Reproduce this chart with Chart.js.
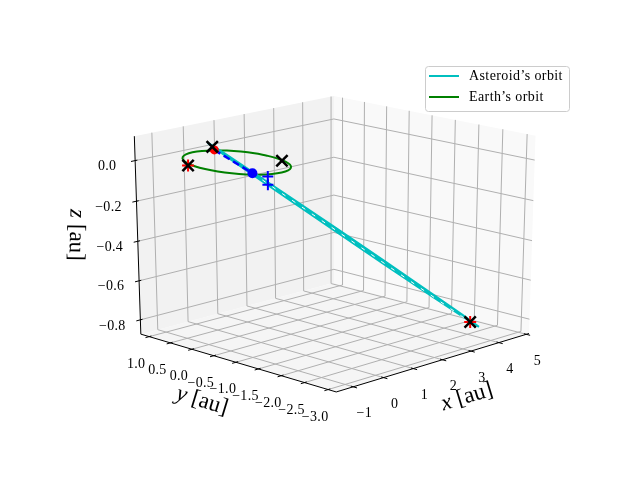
<!DOCTYPE html>
<html>
<head>
<meta charset="utf-8">
<title>Asteroid orbit</title>
<script src="https://cdn.jsdelivr.net/npm/chart.js@4/dist/chart.umd.min.js"></script>
<style>
  html, body { margin: 0; padding: 0; background: #fff; }
  canvas { display: block; }
</style>
</head>
<body>
<canvas id="orbitChart" width="640" height="480"></canvas>
<script>
// axis ticks, in au
const xTicks = [-1, 0, 1, 2, 3, 4, 5];
const yTicks = [1.0, 0.5, 0.0, -0.5, -1.0, -1.5, -2.0, -2.5, -3.0];
const zTicks = [0.0, -0.2, -0.4, -0.6, -0.8];
const xTickLabels = ["−1", "0", "1", "2", "3", "4", "5"];
const yTickLabels = ["1.0", "0.5", "0.0", "−0.5", "−1.0", "−1.5", "−2.0", "−2.5", "−3.0"];
const zTickLabels = ["0.0", "−0.2", "−0.4", "−0.6", "−0.8"];
const xLimits = [-1.55, 5.1];
const yLimits = [-3.17, 1.2];
const zLimits = [-0.874, 0.119];

// Earth's orbit, lies in z = 0
const earthX = [1, 0.966, 0.866, 0.707, 0.5, 0.259, 0, -0.259, -0.5, -0.707, -0.866, -0.966, -1, -0.966, -0.866, -0.707, -0.5, -0.259, 0, 0.259, 0.5, 0.707, 0.866, 0.966, 1];
const earthY = [0, 0.259, 0.5, 0.707, 0.866, 0.966, 1, 0.966, 0.866, 0.707, 0.5, 0.259, 0, -0.259, -0.5, -0.707, -0.866, -0.966, -1, -0.966, -0.866, -0.707, -0.5, -0.259, 0];
const earthZ = [0, 0, 0, 0, 0, 0, 0, 0, 0, 0, 0, 0, 0, 0, 0, 0, 0, 0, 0, 0, 0, 0, 0, 0, 0];

// Asteroid's orbit, a thin ellipse seen almost edge on
const asteroidX = [-0.503, -0.437, -0.219, 0.219, 0.875, 1.749, 2.624, 3.498, 4.067, 4.373, 4.067, 3.498, 2.624, 1.749, 0.875, 0.219, -0.219, -0.437, -0.503];
const asteroidY = [0.29, 0.253, 0.126, -0.126, -0.505, -1.01, -1.516, -2.021, -2.349, -2.526, -2.349, -2.021, -1.516, -1.01, -0.505, -0.126, 0.126, 0.253, 0.29];
const asteroidZ = [0.098, 0.087, 0.0467, -0.0361, -0.1619, -0.331, -0.5014, -0.6731, -0.7856, -0.85, -0.7944, -0.6869, -0.5186, -0.349, -0.1781, -0.0489, 0.0383, 0.083, 0.098];

// dashed chords and marked positions
const blueDashX = [-0.385, 0.28];
const blueDashY = [0.222, -0.162];
const blueDashZ = [0.062, -0.0544];
const whiteDashX = [0.28, 4.21];
const whiteDashY = [-0.162, -2.432];
const whiteDashZ = [-0.0544, -0.824];
const redDotX = [-0.385];
const redDotY = [0.222];
const redDotZ = [0.062];
const blueDotX = [0.28];
const blueDotY = [-0.162];
const blueDotZ = [-0.0544];
const blackCrossX = [-0.42, 0.861, -1.029, 4.21];
const blackCrossY = [0.243, -0.426, 0.364, -2.432];
const blackCrossZ = [0.077, 0, 0, -0.824];
const redPlusX = [-1.029, 4.21];
const redPlusY = [0.364, -2.432];
const redPlusZ = [0, -0.824];
const bluePlusX = [0.203, 0.203];
const bluePlusY = [-0.556, -0.556];
const bluePlusZ = [-0.048, -0.088];

const legendNames = ["Asteroid’s orbit", "Earth’s orbit"];
const legendColors = ["#00bfbf", "#008000"];

const ELEV = 19.2 * Math.PI / 180;
const AZIM_OFFSET = 0.006;   // tiny turn away from -135 deg
const SCALE_X = 2790, SCALE_Y = 2095, CENTER_X = 335, CENTER_Y = 236.5;
const FONT = '"Liberation Serif", serif';

// same idea as mplot3d: unit cube seen from distance 10
function project(x, y, z) {
  const fx = (x - xLimits[0]) / (xLimits[1] - xLimits[0]) - 0.5;
  const fy = (y - yLimits[0]) / (yLimits[1] - yLimits[0]) - 0.5;
  const fz = (z - zLimits[0]) / (zLimits[1] - zLimits[0]) - 0.5;
  const az = Math.PI / 4 + AZIM_OFFSET;
  const side = fx * Math.cos(az) - fy * Math.sin(az);
  const along = fx * Math.sin(az) + fy * Math.cos(az);
  const up = along * Math.sin(ELEV) + fz * Math.cos(ELEV);
  const depth = 10 + along * Math.cos(ELEV) - fz * Math.sin(ELEV);
  return { x: CENTER_X + SCALE_X * side / depth, y: CENTER_Y - SCALE_Y * up / depth };
}

function path(xs, ys, zs) {
  return xs.map((x, i) => project(x, ys[i], zs[i]));
}

// several separate segments in one dataset, split by empty points
function segments(list) {
  const pts = [];
  list.forEach(s => {
    pts.push(project(s[0], s[1], s[2]), project(s[3], s[4], s[5]), { x: null, y: null });
  });
  return pts;
}

const [x0, x1] = xLimits, [y0, y1] = yLimits, [z0, z1] = zLimits;

const gridSegments = [];
xTicks.forEach(t => {
  gridSegments.push([t, y0, z0, t, y1, z0], [t, y1, z0, t, y1, z1]);
});
yTicks.forEach(t => {
  gridSegments.push([x0, t, z0, x1, t, z0], [x1, t, z0, x1, t, z1]);
});
zTicks.forEach(t => {
  gridSegments.push([x0, y1, t, x1, y1, t], [x1, y1, t, x1, y0, t]);
});

const axisSegments = [
  [x0, y0, z0, x1, y0, z0],
  [x0, y0, z0, x0, y1, z0],
  [x0, y1, z0, x0, y1, z1]
];
xTicks.forEach(t => axisSegments.push([t, y0 - 0.08, z0, t, y0 + 0.05, z0]));
yTicks.forEach(t => axisSegments.push([x0 - 0.12, t, z0, x0 + 0.07, t, z0]));
zTicks.forEach(t => axisSegments.push([x0 - 0.13, y1, t, x0 + 0.07, y1, t]));

function pane(corners, color) {
  return {
    data: corners.map(c => project(c[0], c[1], c[2])),
    showLine: true, fill: 'shape', backgroundColor: color,
    borderWidth: 0, pointRadius: 0, order: 100
  };
}

function line(data, color, width, order, dash) {
  return {
    data, showLine: true, fill: false, borderColor: color, borderWidth: width,
    borderDash: dash || [], pointRadius: 0, order
  };
}

function marks(data, style, radius, color, width, order) {
  return {
    data, showLine: false, pointStyle: style, pointRadius: radius,
    pointBorderColor: color, pointBackgroundColor: color, pointBorderWidth: width, order
  };
}

const earthLine = line(path(earthX, earthY, earthZ), legendColors[1], 2, 8);
earthLine.tension = 0.4;

// the asteroid's loop is so thin that it reads as one solid band
const asteroidLine = line(path(asteroidX, asteroidY, asteroidZ), legendColors[0], 2, 7);
asteroidLine.fill = 'shape';
asteroidLine.backgroundColor = legendColors[0];

const datasets = [
  pane([[x0, y1, z0], [x1, y1, z0], [x1, y1, z1], [x0, y1, z1], [x0, y1, z0]], '#f2f2f2'),
  pane([[x1, y1, z0], [x1, y0, z0], [x1, y0, z1], [x1, y1, z1], [x1, y1, z0]], '#f9f9f9'),
  pane([[x0, y0, z0], [x1, y0, z0], [x1, y1, z0], [x0, y1, z0], [x0, y0, z0]], '#f5f5f5'),
  line(segments(gridSegments), '#b0b0b0', 1, 50),
  line(segments(axisSegments), '#000000', 1, 40),
  earthLine,
  asteroidLine,
  line(path(whiteDashX, whiteDashY, whiteDashZ), '#ffffff', 1, 6, [4, 8]),
  line(path(blueDashX, blueDashY, blueDashZ), '#0000ff', 2.5, 5, [7, 4]),
  marks(path(redDotX, redDotY, redDotZ), 'circle', 4.5, '#ff0000', 0, 4),
  marks(path(redPlusX, redPlusY, redPlusZ), 'cross', 6, '#ff0000', 2, 3),
  marks(path(blackCrossX, blackCrossY, blackCrossZ), 'crossRot', 8, '#000000', 2.5, 2),
  marks(path(blueDotX, blueDotY, blueDotZ), 'circle', 5, '#0000ff', 0, 1),
  marks(path(bluePlusX, bluePlusY, bluePlusZ), 'cross', 5.5, '#0000ff', 2, 0)
];

// math label: italic letter followed by roman unit, turned by angle
function axisLabel(ctx, letter, cx, cy, angle) {
  ctx.save();
  ctx.translate(cx, cy);
  ctx.rotate(angle);
  ctx.font = 'italic 23px ' + FONT;
  const w1 = ctx.measureText(letter + ' ').width;
  ctx.font = '23px ' + FONT;
  const w2 = ctx.measureText('[au]').width;
  const left = -(w1 + w2) / 2;
  ctx.textAlign = 'left';
  ctx.textBaseline = 'middle';
  ctx.font = 'italic 23px ' + FONT;
  ctx.fillText(letter, left, 0);
  ctx.font = '23px ' + FONT;
  ctx.fillText('[au]', left + w1, 0);
  ctx.restore();
}

const textPlugin = {
  id: 'axisText',
  afterDraw(chart) {
    const ctx = chart.ctx;
    ctx.save();
    ctx.fillStyle = '#000';
    ctx.textAlign = 'center';
    ctx.textBaseline = 'middle';
    ctx.font = '14px ' + FONT;
    ctx.letterSpacing = '0.3px';
    xTicks.forEach((t, i) => {
      const p = project(t, y0, z0);
      ctx.fillText(xTickLabels[i], p.x + 11, p.y + 27);
    });
    yTicks.forEach((t, i) => {
      const p = project(x0, t, z0);
      ctx.fillText(yTickLabels[i], p.x - 13, p.y + 27.5);
    });
    zTicks.forEach((t, i) => {
      const p = project(x0, y1, t);
      ctx.fillText(zTickLabels[i], p.x - 28, p.y + 6);
    });
    ctx.letterSpacing = '0px';
    axisLabel(ctx, 'x', 467, 397, -17 * Math.PI / 180);
    axisLabel(ctx, 'y', 202, 401, 17 * Math.PI / 180);
    axisLabel(ctx, 'z', 76, 235, 91 * Math.PI / 180);

    // legend box, upper right
    ctx.beginPath();
    ctx.roundRect(425.5, 66.5, 144, 45, 3);
    ctx.fillStyle = 'rgba(255,255,255,0.8)';
    ctx.fill();
    ctx.strokeStyle = '#cccccc';
    ctx.lineWidth = 1;
    ctx.stroke();
    legendNames.forEach((name, i) => {
      const ly = 76 + i * 21;
      ctx.beginPath();
      ctx.moveTo(429, ly);
      ctx.lineTo(459, ly);
      ctx.strokeStyle = legendColors[i];
      ctx.lineWidth = 2;
      ctx.stroke();
      ctx.fillStyle = '#000';
      ctx.textAlign = 'left';
      ctx.font = '14px ' + FONT;
      ctx.letterSpacing = '0.4px';
      ctx.fillText(name, 469, ly);
      ctx.letterSpacing = '0px';
    });
    ctx.restore();
  }
};

new Chart(document.getElementById('orbitChart'), {
  type: 'scatter',
  data: { datasets },
  plugins: [textPlugin],
  options: {
    responsive: false,
    animation: false,
    layout: { padding: 0, autoPadding: false },
    plugins: { legend: { display: false }, tooltip: { enabled: false } },
    scales: {
      x: { type: 'linear', min: 0, max: 640, display: false },
      y: { type: 'linear', min: 0, max: 480, reverse: true, display: false }
    }
  }
});
</script>
</body>
</html>
